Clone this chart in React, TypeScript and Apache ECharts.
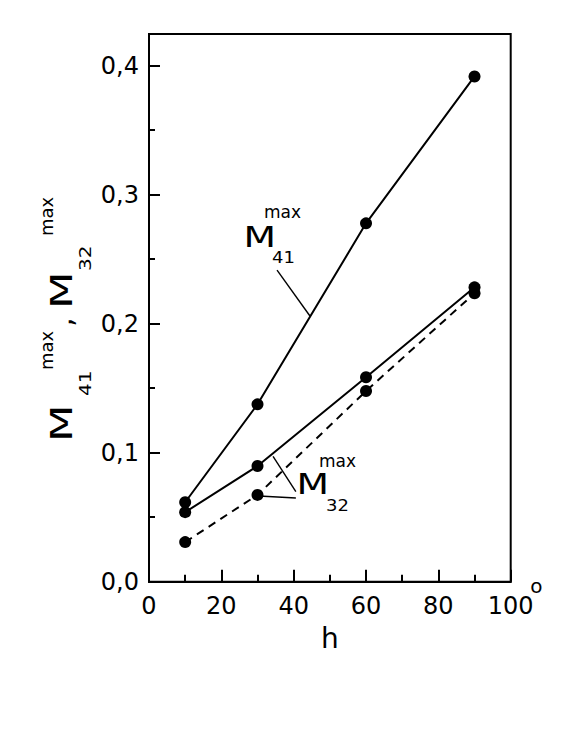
import React, { useEffect, useRef } from "react";
import * as echarts from "echarts";

// ---- data ----
const H_VALUES = [10, 30, 60, 90];
const M41_MAX = [0.0616, 0.1375, 0.2778, 0.3917];
const M32_MAX_SOLID = [0.0539, 0.0897, 0.1585, 0.2282];
const M32_MAX_DASHED = [0.0307, 0.0673, 0.1478, 0.2236];

const X_MIN = 0;
const X_MAX = 100;
const Y_MIN = 0;
const Y_MAX = 0.4246;

// annotation leader lines, in data coordinates [h, M]
const M41_POINTER = [[35.4, 0.2415], [44.5, 0.206]];
const M32_POINTERS = [
  [[40.6, 0.0698], [34.3, 0.0971]],
  [[40.6, 0.0649], [30.4, 0.0664]],
];
// label anchors (left edge / cap-centre of the big "M"), data coordinates
const M41_LABEL_AT = [27.1, 0.2668];
const M32_LABEL_AT = [41.75, 0.0757];

const FONT = '"DejaVu Sans", "Liberation Sans", sans-serif';

function pairs(xs: number[], ys: number[]) {
  return xs.map((x, i) => [x, ys[i]]);
}

function txt(
  text: string,
  x: number,
  y: number,
  size: number,
  opts: { rotation?: number; scaleX?: number; align?: string; weight?: any } = {}
) {
  const align = opts.align || "left";
  return {
    type: "text",
    x,
    y,
    rotation: opts.rotation || 0,
    scaleX: opts.scaleX || 1,
    silent: true,
    style: {
      text,
      fill: "#000",
      fontSize: size,
      fontFamily: FONT,
      fontWeight: opts.weight || "normal",
      align,
      textAlign: align,
      verticalAlign: "middle",
      textVerticalAlign: "middle",
    },
  };
}

export default function App() {
  const ref = useRef<HTMLDivElement>(null);

  useEffect(() => {
    if (!ref.current) return;
    const chart = echarts.init(ref.current, null, { renderer: "svg" });

    const axisBlack = { color: "#000", width: 2 };

    chart.setOption({
      animation: false,
      backgroundColor: "#fff",
      grid: {
        left: 149,
        right: 61.3,
        top: 34,
        bottom: 158.3,
        show: true,
        borderColor: "#000",
        borderWidth: 2,
        backgroundColor: "transparent",
      },
      xAxis: {
        type: "value",
        min: X_MIN,
        max: X_MAX,
        interval: 20,
        axisLine: { show: true, lineStyle: axisBlack },
        axisTick: { show: true, inside: true, length: 12, lineStyle: axisBlack },
        minorTick: { show: true, splitNumber: 2, length: 7, lineStyle: axisBlack },
        splitLine: { show: false },
        minorSplitLine: { show: false },
        axisLabel: {
          color: "#000",
          fontSize: 24,
          fontFamily: FONT,
          margin: 12,
        },
        name: "h",
        nameLocation: "middle",
        nameGap: 43,
        nameTextStyle: { color: "#000", fontSize: 28, fontFamily: FONT },
      },
      yAxis: [
        {
          type: "value",
          min: Y_MIN,
          max: Y_MAX,
          interval: 0.1,
          position: "left",
          axisLine: { show: true, lineStyle: axisBlack },
          axisTick: { show: true, inside: true, length: 11, lineStyle: axisBlack },
          splitLine: { show: false },
          axisLabel: {
            color: "#000",
            fontSize: 24,
            fontFamily: FONT,
            margin: 10,
            showMaxLabel: false,
            formatter: (v: number) => v.toFixed(1).replace(".", ","),
          },
        },
        {
          type: "value",
          min: Y_MIN,
          max: Y_MAX,
          interval: 0.05,
          position: "left",
          offset: 0,
          axisLine: { show: false },
          axisTick: { show: true, inside: true, length: 6, lineStyle: axisBlack },
          splitLine: { show: false },
          axisLabel: { show: false },
        },
      ],
      series: [
        {
          name: "M41 max",
          type: "line",
          data: pairs(H_VALUES, M41_MAX),
          symbol: "circle",
          symbolSize: 12,
          itemStyle: { color: "#000" },
          lineStyle: { color: "#000", width: 2 },
          z: 3,
        },
        {
          name: "M32 max",
          type: "line",
          data: pairs(H_VALUES, M32_MAX_SOLID),
          symbol: "circle",
          symbolSize: 12,
          itemStyle: { color: "#000" },
          lineStyle: { color: "#000", width: 2 },
          z: 3,
        },
        {
          name: "M32 max (dashed)",
          type: "line",
          data: pairs(H_VALUES, M32_MAX_DASHED),
          symbol: "circle",
          symbolSize: 12,
          itemStyle: { color: "#000" },
          lineStyle: { color: "#000", width: 2, type: [8, 6] },
          z: 3,
        },
      ],
    });

    const toPx = (p: number[]) => chart.convertToPixel({ seriesIndex: 0 }, p) as number[];
    const leader = (a: number[], b: number[]) => {
      const p = toPx(a);
      const q = toPx(b);
      return {
        type: "line",
        silent: true,
        shape: { x1: p[0], y1: p[1], x2: q[0], y2: q[1] },
        style: { stroke: "#000", lineWidth: 1.4 },
      };
    };

    const a41 = toPx(M41_LABEL_AT);
    const a32 = toPx(M32_LABEL_AT);
    const R = Math.PI / 2;

    const elements: any[] = [
      // leader lines
      leader(M41_POINTER[0], M41_POINTER[1]),
      leader(M32_POINTERS[0][0], M32_POINTERS[0][1]),
      leader(M32_POINTERS[1][0], M32_POINTERS[1][1]),
      // M41 max label inside the plot
      txt("M", a41[0] - 3.6, a41[1], 29, { scaleX: 1.3 }),
      txt("max", a41[0] + 17, a41[1] - 26, 17),
      txt("41", a41[0] + 25, a41[1] + 20, 15, { scaleX: 1.2 }),
      // M32 max label inside the plot
      txt("M", a32[0] - 3.6, a32[1], 29, { scaleX: 1.3 }),
      txt("max", a32[0] + 19, a32[1] - 23.5, 17),
      txt("32", a32[0] + 26, a32[1] + 22, 15, { scaleX: 1.2 }),
      // rotated y-axis title: M41^max , M32^max
      txt("M", 61, 442, 31, { rotation: R, scaleX: 1.4 }),
      txt("41", 85, 396, 16, { rotation: R, scaleX: 1.25 }),
      txt("max", 46, 370, 18, { rotation: R }),
      txt(",", 61, 327, 31, { rotation: R }),
      txt("M", 61, 309, 31, { rotation: R, scaleX: 1.4 }),
      txt("32", 85, 271, 16, { rotation: R, scaleX: 1.25 }),
      txt("max", 46, 236, 18, { rotation: R }),
      // degree mark after "100"
      txt("o", 536.3, 586.3, 20, { align: "center" }),
    ];

    chart.setOption({ graphic: { elements } });

    return () => chart.dispose();
  }, []);

  return (
    <div
      ref={ref}
      style={{ position: "fixed", left: 0, top: 0, width: 572, height: 740, background: "#fff" }}
    />
  );
}
